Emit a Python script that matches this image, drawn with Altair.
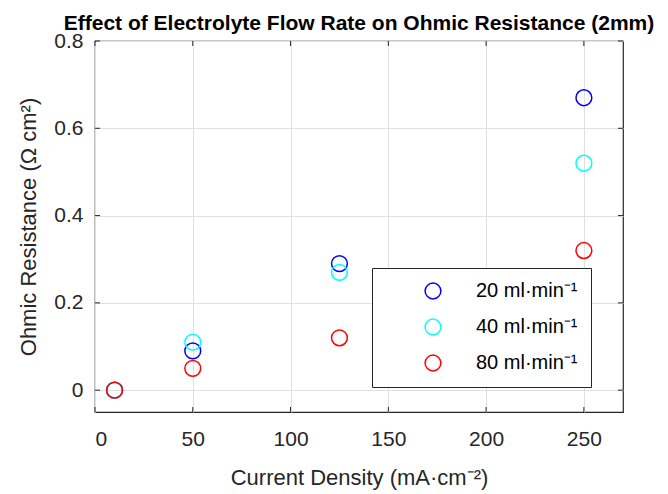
import altair as alt
import pandas as pd

current_density = [10, 50, 125, 250]
r_20 = [0.0, 0.09, 0.29, 0.67]
r_40 = [0.0, 0.11, 0.27, 0.52]
r_80 = [0.0, 0.05, 0.12, 0.32]
series = ["20 ml·min⁻¹", "40 ml·min⁻¹", "80 ml·min⁻¹"]
colors = ["#0000ff", "#00ffff", "#ff0000"]
x_ticks = [0, 50, 100, 150, 200, 250]
y_ticks = [0, 0.2, 0.4, 0.6, 0.8]

rows = []
for name, vals in zip(series, [r_20, r_40, r_80]):
    for xv, yv in zip(current_density, vals):
        rows.append({"x": xv, "y": yv, "s": name})
df = pd.DataFrame(rows)

W, H = 528, 371
AX = "#262626"
FONT = "Liberation Sans"

xs = alt.Scale(domain=[0, 270], nice=False, zero=False)
ys = alt.Scale(domain=[-0.05, 0.8], nice=False, zero=False)

points = alt.Chart(df).mark_point(filled=False, size=250, strokeWidth=1.5, opacity=1).encode(
    x=alt.X("x:Q", scale=xs, title="Current Density (mA·cm⁻²)",
            axis=alt.Axis(values=x_ticks, format="d")),
    y=alt.Y("y:Q", scale=ys, title="Ohmic Resistance (Ω cm²)",
            axis=alt.Axis(values=y_ticks, format=".1~f")),
    color=alt.Color("s:N", scale=alt.Scale(domain=series, range=colors),
                    sort=series, title=None,
                    legend=alt.Legend(orient="none", legendX=277, legendY=227,
                                      symbolType="circle", symbolSize=250,
                                      symbolStrokeWidth=1.5, symbolFillColor="transparent",
                                      symbolOffset=38, labelOffset=33,
                                      labelFontSize=20, labelFont=FONT, labelColor="#000000",
                                      rowPadding=14, padding=13,
                                      strokeColor="#262626", fillColor="#ffffff")),
    order=alt.Order("s:N"),
)

xt = pd.DataFrame({"t": x_ticks})
yt = pd.DataFrame({"t": y_ticks})
tick_bottom = alt.Chart(xt).mark_rule(color=AX, strokeWidth=1).encode(
    x=alt.X("t:Q", scale=xs), y=alt.value(H), y2=alt.value(H - 5))
tick_top = alt.Chart(xt).mark_rule(color=AX, strokeWidth=1).encode(
    x=alt.X("t:Q", scale=xs), y=alt.value(0), y2=alt.value(5))
tick_left = alt.Chart(yt).mark_rule(color=AX, strokeWidth=1).encode(
    y=alt.Y("t:Q", scale=ys), x=alt.value(0), x2=alt.value(5))
tick_right = alt.Chart(yt).mark_rule(color=AX, strokeWidth=1).encode(
    y=alt.Y("t:Q", scale=ys), x=alt.value(W), x2=alt.value(W - 5))

chart = alt.layer(tick_bottom, tick_top, tick_left, tick_right, points).properties(
    width=W, height=H,
    title=alt.Title("Effect of Electrolyte Flow Rate on Ohmic Resistance (2mm)",
                    font=FONT, fontSize=21, fontWeight="bold", color="#000000",
                    anchor="middle", offset=-4),
    autosize=alt.AutoSizeParams(type="none"),
    padding={"left": 87, "top": 33, "right": 37, "bottom": 82},
).configure_view(stroke=AX, strokeWidth=1.2).configure_axis(
    domain=False, ticks=False, grid=True, gridColor="#e0e0e0", gridWidth=1,
    labelFont=FONT, labelFontSize=21, labelColor=AX,
    titleFont=FONT, titleFontSize=22, titleColor=AX, titleFontWeight="normal",
).configure_axisX(labelPadding=16, titlePadding=18).configure_axisY(labelPadding=12, titlePadding=13)

chart.save("out.html", embed_options={"renderer": "svg", "actions": False})
